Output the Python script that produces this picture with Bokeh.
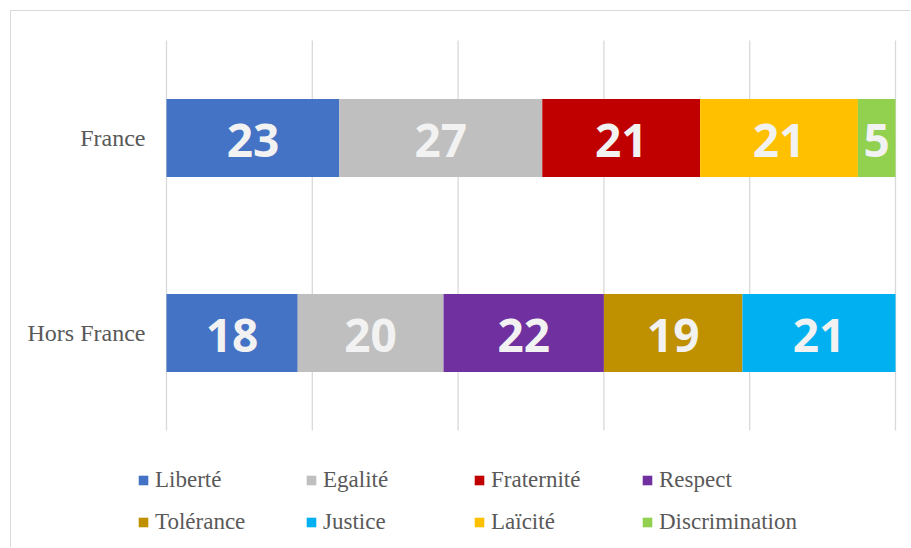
from bokeh.plotting import figure
from bokeh.models import Range1d, ColumnDataSource, Legend, LegendItem
from bokeh.core.properties import value
from bokeh.embed import file_html
from bokeh.resources import INLINE

regions = ["Hors France", "France"]
series = ["Liberté", "Egalité", "Fraternité", "Respect", "Tolérance", "Justice", "Laïcité", "Discrimination"]
colors = ["#4472C4", "#BFBFBF", "#C00000", "#7030A0", "#BF9000", "#00B0F0", "#FFC000", "#92D050"]
# values per series: [Hors France, France]
liberte = [18, 23]
egalite = [20, 27]
fraternite = [0, 21]
respect = [22, 0]
tolerance = [19, 0]
justice = [21, 0]
laicite = [0, 21]
discrimination = [0, 5]
grid_ticks = [0, 20, 40, 60, 80, 100]

values = [liberte, egalite, fraternite, respect, tolerance, justice, laicite, discrimination]
totals = [sum(v[i] for v in values) for i in range(len(regions))]
ypos = [i + 0.5 for i in range(len(regions))]

data = {"y": ypos, "region": regions}
for name, vals in zip(series, values):
    data[name] = [100.0 * vals[i] / totals[i] for i in range(len(regions))]
source = ColumnDataSource(data)

W, H = 900, 537
FL, FR, FT, FB = 155, 884, 29, 419        # plotting area in pixels
xs = (FR - FL) / 100.0
ys = (FB - FT) / len(regions)
p = figure(width=W, height=H, output_backend="svg", toolbar_location=None,
           x_range=Range1d(-FL / xs, 100 + (W - FR) / xs),
           y_range=Range1d(-(H - FB) / ys, len(regions) + FT / ys),
           min_border=0)
p.styles = {"margin-left": "10px", "margin-top": "10px",
            "border-left": "1px solid #d9d9d9", "border-top": "1px solid #d9d9d9"}
p.outline_line_color = None
p.xaxis.visible = False
p.yaxis.visible = False
p.grid.visible = False

# vertical gridlines
p.segment(x0=grid_ticks, x1=grid_ticks, y0=[0] * len(grid_ticks), y1=[len(regions)] * len(grid_ticks),
          line_color="#D9D9D9", line_width=1.3)

rends = p.hbar_stack(series, y="y", height=0.4, color=colors, line_color=None, source=source)

# category labels
p.text(x=[0] * len(regions), y=ypos, text=regions, x_offset=-21, text_align="right",
       text_baseline="middle", text_font=value("'Liberation Serif'"), text_font_size="24px",
       text_color="#595959")

# data labels
lx, ly, lt = [], [], []
for i, r in enumerate(regions):
    cum = 0.0
    for name, vals in zip(series, values):
        pct = 100.0 * vals[i] / totals[i]
        if vals[i] > 0:
            lx.append(cum + pct / 2)
            ly.append(ypos[i])
            lt.append(str(vals[i]))
        cum += pct
p.text(x=lx, y=ly, text=lt, text_align="center", text_baseline="middle",
       text_font=value("'Open Sans'"), text_font_style="bold", text_font_size="46px",
       text_color="#F2F2F2", y_offset=2)

items = [LegendItem(label=s, renderers=[r]) for s, r in zip(series, rends)]
legend = Legend(items=items, ncols=4, orientation="horizontal", location=(126, 13),
                glyph_width=12, glyph_height=12, label_standoff=6, label_width=134,
                label_height=20, spacing=16, padding=0, margin=0,
                border_line_color=None, background_fill_alpha=0,
                label_text_font="'Liberation Serif'", label_text_font_size="23px",
                label_text_color="#595959")
p.add_layout(legend, "center")

open("out.html", "w").write(file_html(p, INLINE))
